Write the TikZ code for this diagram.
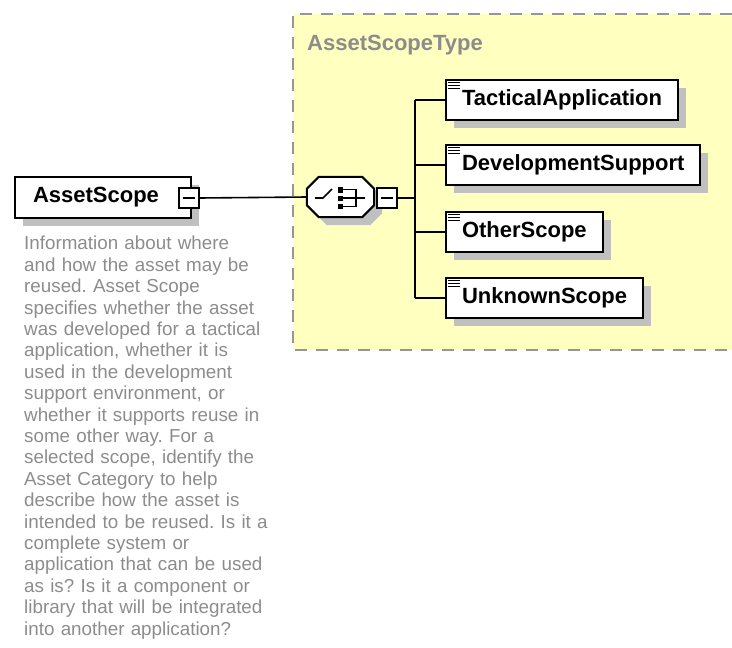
\documentclass[tikz,border=0pt]{standalone}
\usepackage{fontspec}
\setmainfont{Liberation Sans}
\usetikzlibrary{shadows}
\definecolor{typefill}{RGB}{255,255,192}
\definecolor{docgray}{RGB}{140,140,140}
\definecolor{dashgray}{RGB}{150,150,150}
\definecolor{shadowgray}{RGB}{192,192,192}
\tikzset{>=latex}
\tikzset{
  boxshadow/.style={drop shadow={shadow xshift=8pt, shadow yshift=-8pt, fill=shadowgray, opacity=1}},
  elem/.style={draw, line width=2pt, fill=white, minimum height=40pt, inner xsep=16pt,
    anchor=west, font=\bfseries\fontsize{22}{26}\selectfont, boxshadow},
  minusbox/.style={draw, line width=2pt, fill=white, minimum width=20pt, minimum height=20pt,
    inner sep=0pt, path picture={\draw[line width=1.6pt] ([xshift=4pt]path picture bounding box.west)
      -- ([xshift=-4pt]path picture bounding box.east);}},
}

\begin{document}
\begin{tikzpicture}[x=1pt, y=-1pt]
  \useasboundingbox (0,0) rectangle (732,648);

  % type area
  \fill[typefill] (293,14) rectangle (732,350);
  \draw[dashgray, line width=2pt, dash pattern=on 12pt off 9pt] (732,14) -- (293,14) -- (293,350) -- (732,350);
  \node[anchor=base west, inner sep=0, text=docgray, font=\bfseries\fontsize{22}{26}\selectfont] (typelbl) at (307,50) {AssetScopeType};

  % element
  \node[elem, text width=140pt, inner xsep=18pt, align=left, minimum height=41pt] (scope) at (14,197.5) {AssetScope};
  \node[minusbox] (scopeminus) at (188.5,198) {};
  \node[anchor=north west, inner sep=0, text width=260pt, align=left, text=docgray,
        font=\fontsize{18.8}{21.4}\selectfont\frenchspacing] (doc) at (24,236) {Information about where\\
    and how the asset may be\\
    reused. Asset Scope\\
    specifies whether the asset\\
    was developed for a tactical\\
    application, whether it is\\
    used in the development\\
    support environment, or\\
    whether it supports reuse in\\
    some other way. For a\\
    selected scope, identify the\\
    Asset Category to help\\
    describe how the asset is\\
    intended to be reused. Is it a\\
    complete system or\\
    application that can be used\\
    as is? Is it a component or\\
    library that will be integrated\\
    into another application?};

  % sequence
  \node[minimum width=67pt, minimum height=40pt, inner sep=0] (seq) at (340.5,197) {};
  \path[draw, fill=white, line width=2pt, boxshadow]
    ([xshift=12pt]seq.north west) -- ([xshift=-12pt]seq.north east) -- ([yshift=-12pt]seq.north east)
    -- ([yshift=12pt]seq.south east) -- ([xshift=-12pt]seq.south east) -- ([xshift=12pt]seq.south west)
    -- ([yshift=12pt]seq.south west) -- ([yshift=-12pt]seq.north west) -- cycle;
  \begin{scope}[shift={(seq.center)}]
    \draw[line width=1.6pt] (-25.5,1) -- (-17.5,1) -- (-8.5,-8);
    \fill (-2.5,-10) rectangle (2.5,-4.5);
    \fill (-2.5,-1.5) rectangle (2.5,3.5);
    \fill (-2.5,7) rectangle (2.5,12);
    \draw[line width=1.6pt] (2.5,-7.5) -- (15.5,-7.5) -- (15.5,9.5) -- (2.5,9.5);
    \draw[line width=1.6pt] (2.5,1) -- (24.5,1);
  \end{scope}
  \node[minusbox, anchor=west] (seqminus) at (375.5,198) {};
  \coordinate (fork) at (415,198);

  % children
  \node[elem] (tact) at (445,100) {TacticalApplication};
  \node[elem] (dev) at (445,165) {DevelopmentSupport};
  \node[elem] (other) at (445,232) {OtherScope};
  \node[elem] (unk) at (445,298) {UnknownScope};
  \foreach \e in {tact,dev,other,unk}
    \foreach \k in {3,6,9}
      \draw[line width=1pt] ([xshift=3pt,yshift=-\k pt]\e.north west) -- ++(12,0);

  % connectors
  \draw[line width=1.6pt] (scopeminus.east) -- (seq.west);
  \draw[line width=1.6pt] (seqminus.east) -- (fork);
  \draw[line width=1.6pt] (fork |- tact.west) -- (fork |- unk.west);
  \foreach \e in {tact,dev,other,unk}
    \draw[line width=1.6pt] (fork |- \e.west) -- (\e.west);
\end{tikzpicture}
\end{document}
